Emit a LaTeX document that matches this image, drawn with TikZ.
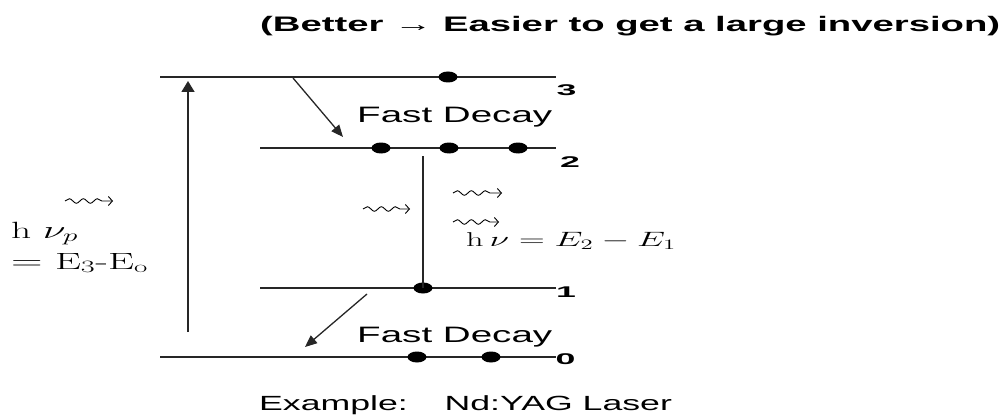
\documentclass[tikz,border=0pt]{standalone}
\usepackage{fontspec}
\usepackage{graphicx}
\newfontfamily\arial{Liberation Sans}
\usetikzlibrary{arrows.meta,decorations.pathmorphing,shapes.geometric}
\newcommand{\wfit}[3]{\resizebox{#1}{\height}{\fontsize{#2}{#2}\selectfont #3}}
\newcommand{\sx}[3]{\scalebox{#1}[1]{\fontsize{#2}{#2}\selectfont #3}}
\tikzset{
  lvl/.style={line width=1.8pt, draw=black!85},
  pop/.style={ellipse, fill=black, inner sep=0pt, minimum width=19pt, minimum height=11pt},
  txt/.style={inner sep=0pt, anchor=base west},
  arr/.style={line width=1.6pt, draw=black!85, -{Triangle[length=11pt,width=13pt]}},
  darr/.style={line width=1.3pt, draw=black!85, -{Triangle[length=12pt,width=10pt]}},
  wavy/.style={line width=0.9pt, decorate, decoration={snake, amplitude=2.3pt, segment length=14pt, post length=6pt}, -{Straight Barb[length=4pt,width=9pt]}},
}
\begin{document}
\begin{tikzpicture}[x=1pt,y=-1pt]
\useasboundingbox (0,0) rectangle (1003,417);
% level end points
\coordinate (L3a) at (160,77);  \coordinate (L3b) at (556,77);
\coordinate (L2a) at (260,148); \coordinate (L2b) at (556,148);
\coordinate (L1a) at (260,288); \coordinate (L1b) at (556,288);
\coordinate (L0a) at (160,357); \coordinate (L0b) at (556,357);
\draw[lvl] (L3a) -- (L3b);
\draw[lvl] (L2a) -- (L2b);
\draw[lvl] (L1a) -- (L1b);
\draw[lvl] (L0a) -- (L0b);
% populations
\node[pop] (d3) at (448,77) {};
\node[pop] (d2a) at (381,148) {};
\node[pop] (d2b) at (449,148) {};
\node[pop] (d2c) at (518,148) {};
\node[pop] (d1) at (423,288) {};
\node[pop] (d0a) at (417,357) {};
\node[pop] (d0b) at (491,357) {};
% level numbers
\node[txt] (n3) at (556.5,96) {\sx{2.3}{15.5pt}{\arial\bfseries 3}};
\node[txt] (n2) at (560,167) {\sx{2.3}{15.5pt}{\arial\bfseries 2}};
\node[txt] (n1) at (556,297) {\sx{2.3}{15.5pt}{\arial\bfseries 1}};
\node[txt] (n0) at (555.5,364) {\sx{2.3}{15.5pt}{\arial\bfseries 0}};
% pump arrow
\coordinate (P0) at (188,332); \coordinate (P1) at (188,81);
\draw[arr] (P0) -- (P1);
% fast decay arrows
\coordinate (F1a) at (293,78);  \coordinate (F1b) at (343,137);
\coordinate (F2a) at (367,294); \coordinate (F2b) at (305,347);
\draw[darr] (F1a) -- (F1b);
\draw[darr] (F2a) -- (F2b);
% laser transition line
\coordinate (T2) at (423,156);
\draw[line width=1.6pt, draw=black!85] (T2) -- (d1.center);
% wavy photon arrows
\coordinate (W1a) at (65,201);  \coordinate (W1b) at (113,201);
\coordinate (W2a) at (363,209); \coordinate (W2b) at (410,209);
\coordinate (W3a) at (453,193); \coordinate (W3b) at (502,193);
\coordinate (W4a) at (453,222); \coordinate (W4b) at (499,222);
\draw[wavy] (W1a) -- (W1b);
\draw[wavy] (W2a) -- (W2b);
\draw[wavy] (W3a) -- (W3b);
\draw[wavy] (W4a) -- (W4b);
% texts
\node[txt] (title) at (260,32) {\wfit{740pt}{21pt}{\arial\bfseries (Better \char"2192{} Easier to get a large inversion)}};
\node[txt] (fd1) at (357,123) {\sx{1.73}{22.3pt}{\arial Fast Decay}};
\node[txt] (fd2) at (357,342) {\sx{1.73}{22.3pt}{\arial Fast Decay}};
\node[txt] (ex) at (259,410) {\sx{1.74}{20.5pt}{\arial Example:\hspace{1.03em}Nd:YAG Laser}};
\node[txt] (hp) at (11,238) {\wfit{67pt}{23.5pt}{$\mathrm{h}\;\nu_p$}};
\node[txt] (ep) at (11,269) {\wfit{137pt}{23.5pt}{$=$ E$_3$-E$_\mathrm{o}$}};
\node[txt] (hl) at (466,246) {\sx{1.72}{20pt}{$\mathrm{h}\,\nu = E_2 - E_1$}};
\end{tikzpicture}
\end{document}
